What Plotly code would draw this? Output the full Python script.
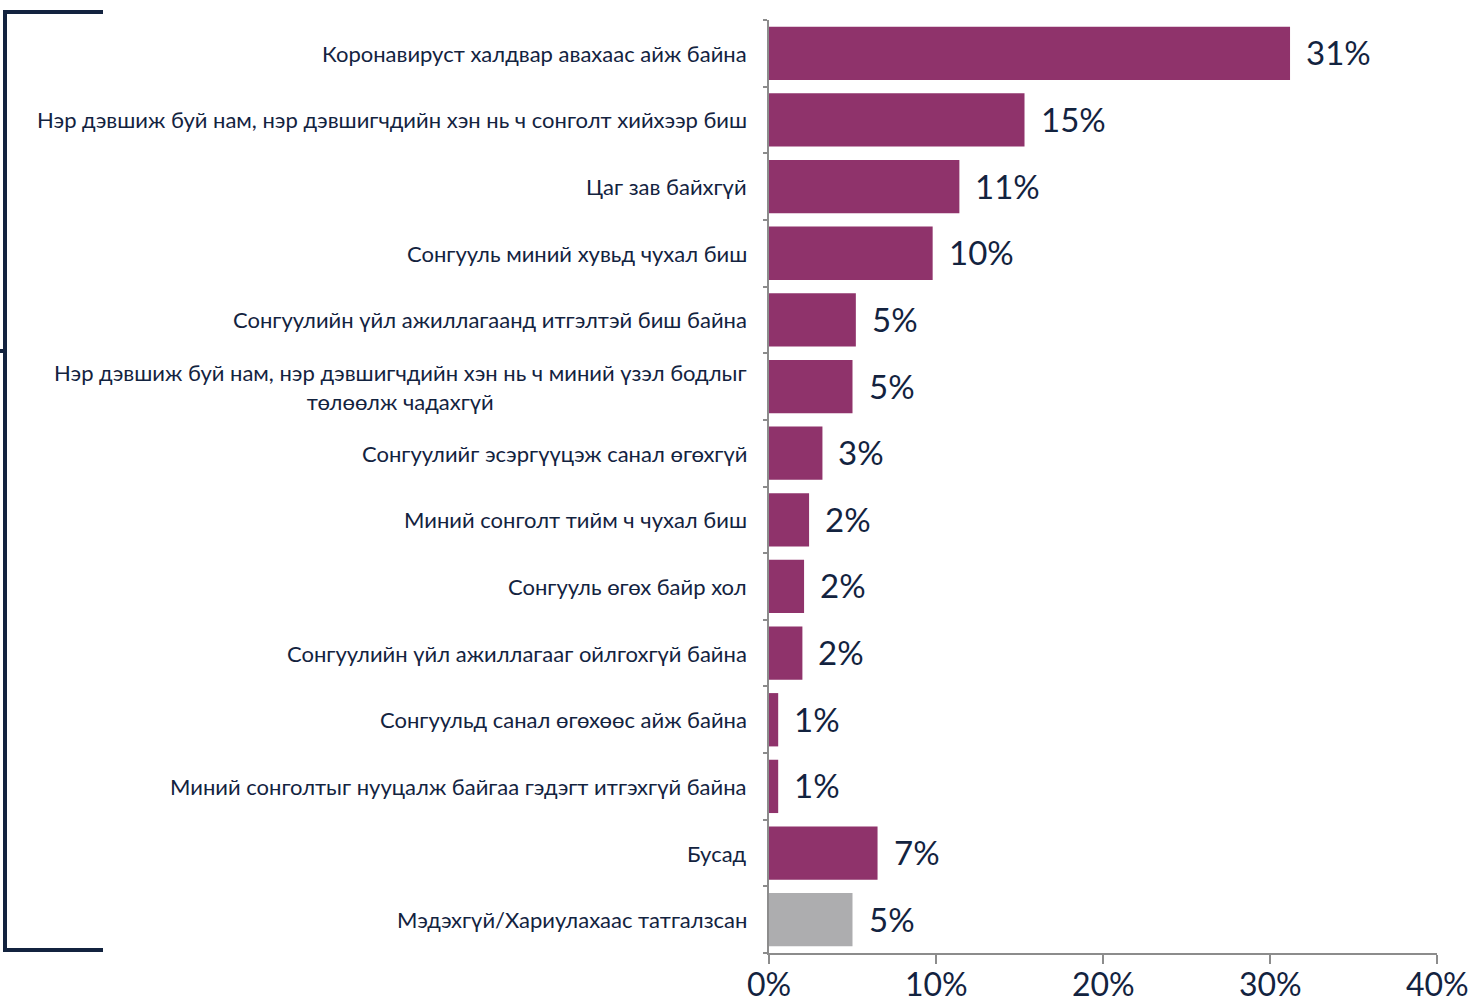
import plotly.graph_objects as go

categories = [
    "Коронавируст халдвар авахаас айж байна",
    "Нэр дэвшиж буй нам, нэр дэвшигчдийн хэн нь ч сонголт хийхээр биш",
    "Цаг зав байхгүй",
    "Сонгууль миний хувьд чухал биш",
    "Сонгуулийн үйл ажиллагаанд итгэлтэй биш байна",
    "Нэр дэвшиж буй нам, нэр дэвшигчдийн хэн нь ч миний үзэл бодлыг<br>төлөөлж чадахгүй",
    "Сонгуулийг эсэргүүцэж санал өгөхгүй",
    "Миний сонголт тийм ч чухал биш",
    "Сонгууль өгөх байр хол",
    "Сонгуулийн үйл ажиллагааг ойлгохгүй байна",
    "Сонгуульд санал өгөхөөс айж байна",
    "Миний сонголтыг нууцалж байгаа гэдэгт итгэхгүй байна",
    "Бусад",
    "Мэдэхгүй/Хариулахаас татгалзсан",
]
values = [31.2, 15.3, 11.4, 9.8, 5.2, 5.0, 3.2, 2.4, 2.1, 2.0, 0.55, 0.55, 6.5, 5.0]
labels = ["31%", "15%", "11%", "10%", "5%", "5%", "3%", "2%", "2%", "2%", "1%", "1%", "7%", "5%"]
colors = ["#8F336B"] * 13 + ["#ADADAF"]
x_ticks = [0, 10, 20, 30, 40]
x_tick_text = ["0%", "10%", "20%", "30%", "40%"]

NAVY = "#13233F"
FONT = "Lato"

ids = list(range(len(categories)))

fig = go.Figure()
fig.add_trace(go.Bar(
    y=ids, x=values, orientation="h",
    marker=dict(color=colors, line=dict(width=0)),
    width=0.8, hoverinfo="skip",
))

# value labels
for i, (v, t) in enumerate(zip(values, labels)):
    fig.add_annotation(x=v, y=i, text=t, showarrow=False, xanchor="left",
                       xshift=14, yshift=1, font=dict(family=FONT, size=33, color=NAVY))

# category labels
for i, c in enumerate(categories):
    fig.add_annotation(x=0, y=i, xref="x", yref="y", text=c, showarrow=False,
                       xanchor="right", align="center", xshift=-20,
                       font=dict(family=FONT, size=22, color=NAVY))

# x-axis tick labels
for v, t in zip(x_ticks, x_tick_text):
    fig.add_annotation(x=v, y=0, xref="x", yref="paper", text=t, showarrow=False,
                       xanchor="center", yanchor="top", yshift=-10, borderpad=0,
                       font=dict(family=FONT, size=32, color=NAVY))

L, R, T, B = 769, 40, 20, 51
W, H = 1477, 1004
pw, ph = W - L - R, H - T - B

def px2x(p):
    return (p - L) / pw

def py2y(p):
    return (H - B - p) / ph

line = dict(color=NAVY, width=4)
shapes = [
    dict(type="line", xref="paper", yref="paper", x0=px2x(5), x1=px2x(103), y0=py2y(12), y1=py2y(12), line=line),
    dict(type="line", xref="paper", yref="paper", x0=px2x(5), x1=px2x(5), y0=py2y(10), y1=py2y(952), line=line),
    dict(type="line", xref="paper", yref="paper", x0=px2x(5), x1=px2x(103), y0=py2y(950), y1=py2y(950), line=line),
    dict(type="line", xref="paper", yref="paper", x0=px2x(0), x1=px2x(5), y0=py2y(351), y1=py2y(351), line=line),
]

fig.update_layout(
    width=W, height=H,
    margin=dict(l=L, r=R, t=T, b=B, pad=0, autoexpand=False),
    paper_bgcolor="white", plot_bgcolor="white",
    showlegend=False, shapes=shapes,
    xaxis=dict(range=[0, 40], tickvals=x_ticks, showticklabels=False, automargin=False,
               showgrid=False, zeroline=False, showline=True, linecolor="#8C8C8C", linewidth=2,
               ticks="outside", ticklen=9, tickcolor="#8C8C8C", tickwidth=2,
               fixedrange=True),
    yaxis=dict(type="category", autorange="reversed", tickvals=ids, showticklabels=False,
               automargin=False,
               showgrid=False, zeroline=False, showline=True, linecolor="#8C8C8C", linewidth=2,
               ticks="outside", ticklen=4, tickcolor="#8C8C8C", tickwidth=2, tickson="boundaries",
               range=[len(categories) - 0.5, -0.5], fixedrange=True),
)

fig.write_html("out.html", config={"displayModeBar": False})

with open("out.html", "r", encoding="utf-8") as f:
    html = f.read()
html = html.replace("<head>", "<head><style>html,body{margin:0;padding:0;overflow:hidden;}</style>", 1)
with open("out.html", "w", encoding="utf-8") as f:
    f.write(html)
